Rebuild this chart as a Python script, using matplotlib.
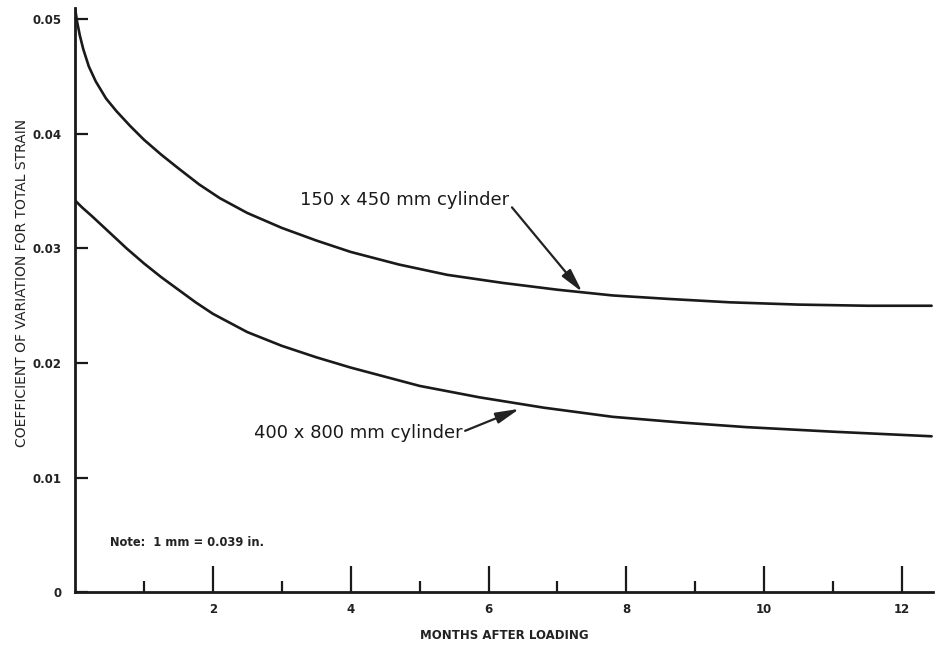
import numpy as np
import matplotlib
matplotlib.use("Agg")
import matplotlib.pyplot as plt
from matplotlib.ticker import FixedLocator

# values
months_150 = [0, 0.03, 0.07, 0.12, 0.2, 0.3, 0.45, 0.6, 0.8, 1.0, 1.25, 1.5,
              1.8, 2.1, 2.5, 3.0, 3.5, 4.0, 4.7, 5.4, 6.2, 7.0, 7.8, 8.6,
              9.5, 10.5, 11.5, 12.43]
cov_150 = [0.0510, 0.0498, 0.0486, 0.0474, 0.0459, 0.0446, 0.0431, 0.0420,
           0.0407, 0.0395, 0.0382, 0.0370, 0.0356, 0.0344, 0.0331, 0.0318,
           0.0307, 0.0297, 0.0286, 0.0277, 0.0270, 0.0264, 0.0259, 0.0256,
           0.0253, 0.0251, 0.0250, 0.0250]

months_400 = [0, 0.1, 0.25, 0.5, 0.75, 1.0, 1.25, 1.5, 1.75, 2.0, 2.5, 3.0,
              3.5, 4.0, 4.5, 5.0, 5.87, 6.8, 7.8, 8.8, 9.74, 11.0, 12.43]
cov_400 = [0.0342, 0.0336, 0.0328, 0.0314, 0.0300, 0.0287, 0.0275, 0.0264,
           0.0253, 0.0243, 0.0227, 0.0215, 0.0205, 0.0196, 0.0188, 0.0180,
           0.0170, 0.0161, 0.0153, 0.0148, 0.0144, 0.0140, 0.0136]

ytick_vals = [0, 0.01, 0.02, 0.03, 0.04, 0.05]
ytick_labels = ["0", "0.01", "0.02", "0.03", "0.04", "0.05"]
xtick_vals = [2, 4, 6, 8, 10, 12]
xminor_vals = [1, 3, 5, 7, 9, 11]

ink = "#1a1a1a"

fig = plt.figure(figsize=(9.39, 6.53), dpi=100)
ax = fig.add_axes([0.0799, 0.0934, 0.9137, 0.8943])

ax.plot(months_150, cov_150, color=ink, lw=1.9, solid_joinstyle="round",
        solid_capstyle="round")
ax.plot(months_400, cov_400, color=ink, lw=1.9, solid_joinstyle="round",
        solid_capstyle="round")

ax.set_xlim(0, 12.45)
ax.set_ylim(0, 0.051)

for s in ["top", "right"]:
    ax.spines[s].set_visible(False)
for s in ["left", "bottom"]:
    ax.spines[s].set_linewidth(2.0)
    ax.spines[s].set_color(ink)

ax.xaxis.set_major_locator(FixedLocator(xtick_vals))
ax.xaxis.set_minor_locator(FixedLocator(xminor_vals))
ax.set_xticklabels([str(v) for v in xtick_vals])
ax.tick_params(axis="x", which="major", direction="in", length=19, width=1.6,
               color=ink, pad=8, labelsize=8.5)
ax.tick_params(axis="x", which="minor", direction="in", length=8, width=1.6,
               color=ink)

ax.set_yticks(ytick_vals)
ax.set_yticklabels(ytick_labels)
ax.tick_params(axis="y", direction="in", length=9, width=1.6, color=ink,
               pad=10, labelsize=8.5)

for lab in ax.get_xticklabels() + ax.get_yticklabels():
    lab.set_fontweight("bold")
    lab.set_color("#222222")

ax.set_xlabel("MONTHS AFTER LOADING", fontsize=8.5, fontweight="bold",
              color="#222222", labelpad=9)
ax.set_ylabel("COEFFICIENT OF VARIATION FOR TOTAL STRAIN", fontsize=10,
              color="#222222")
ax.yaxis.set_label_coords(-0.054, 0.53)

ax.annotate("150 x 450 mm cylinder", xy=(7.36, 0.0262), xytext=(6.3, 0.0342),
            fontsize=13, ha="right", va="center", color=ink,
            arrowprops=dict(arrowstyle="-|>,head_length=1.1,head_width=0.26",
                            color="#222222", lw=1.6, shrinkA=0, shrinkB=0,
                            relpos=(1.0, 0.3)))
ax.annotate("400 x 800 mm cylinder", xy=(6.45, 0.0160), xytext=(5.62, 0.0139),
            fontsize=13, ha="right", va="center", color=ink,
            arrowprops=dict(arrowstyle="-|>,head_length=1.1,head_width=0.26",
                            color="#222222", lw=1.6, shrinkA=0, shrinkB=0,
                            relpos=(1.0, 0.55)))

ax.text(0.51, 0.0043, "Note:  1 mm = 0.039 in.", fontsize=8.3,
        fontweight="bold", color="#222222", va="center")

fig.savefig("out.png", dpi=100)
